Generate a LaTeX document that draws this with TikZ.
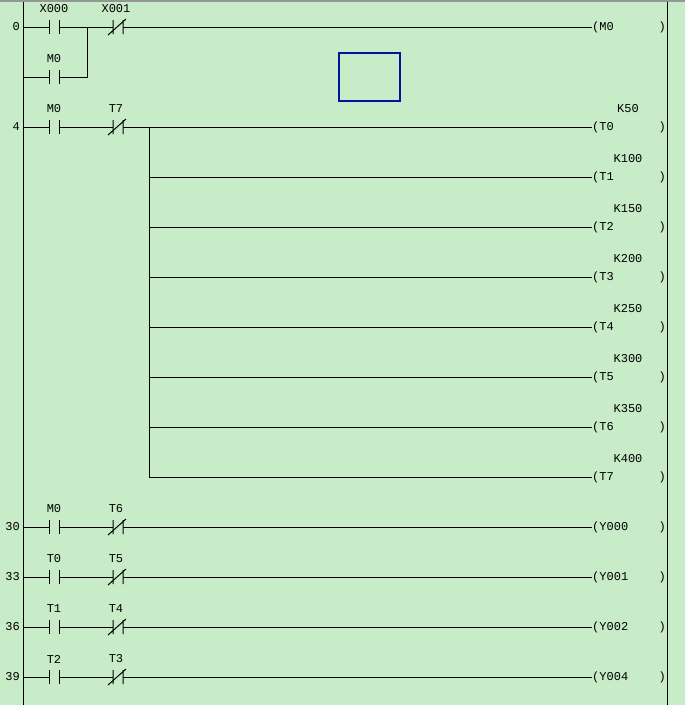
\documentclass[tikz,border=0pt]{standalone}
\usepackage{fontspec}
\setmonofont{Liberation Mono}
\definecolor{bg}{RGB}{200,235,200}
\definecolor{topline}{RGB}{150,150,150}
\definecolor{selblue}{RGB}{0,20,160}
\newcommand\NOc[4]{%
  \node[cont] (#1) at (#2,#3) {};
  \draw[wire] (#1.north west) -- (#1.south west) (#1.north east) -- (#1.south east);
  \node[lab] (#1l) at (#2,#3-18) {#4};}
\newcommand\NCc[4]{%
  \node[cont] (#1) at (#2,#3) {};
  \draw[wire] (#1.north west) -- (#1.south west) (#1.north east) -- (#1.south east)
    ([xshift=-5pt,yshift=-1pt]#1.south west) -- ([xshift=3pt,yshift=1pt]#1.north east);
  \node[lab] (#1l) at (#2-2,#3-18) {#4};}
\newcommand\Coil[4]{%
  \node[coilbox] (#1) at (629,#2) {};
  \node[lab,anchor=west] (#1t) at (#1.west) {(#3};
  \node[lab,anchor=east] (#1r) at (#1.east) {)};
  \node[lab] (#1k) at (628,#2-18) {#4};}
\begin{document}
\begin{tikzpicture}[x=1pt,y=-1pt,
  wire/.style={line width=1pt,black},
  cont/.style={draw=none,minimum width=10pt,minimum height=14pt,inner sep=0pt,outer sep=0pt},
  coilbox/.style={draw=none,minimum width=74pt,minimum height=14pt,inner sep=0pt,outer sep=0pt},
  lab/.style={font=\ttfamily\fontsize{12}{12}\selectfont,inner sep=0pt,text=black},
  num/.style={font=\ttfamily\fontsize{12}{12}\selectfont,inner sep=0pt,anchor=east,text=black}]
\useasboundingbox (0,0) rectangle (685,705);
\fill[bg] (0,0) rectangle (685,705);
\fill[topline] (0,0) rectangle (685,1.5);
% rails
\coordinate (LT) at (23,1.5); \coordinate (LB) at (23,705);
\coordinate (RT) at (667,1.5); \coordinate (RB) at (667,705);
\draw[wire] (LT) -- (LB);
\draw[wire] (RT) -- (RB);
% row numbers
\node[num] (n0) at (20,27) {0};
\node[num] (n4) at (20,127) {4};
\node[num] (n30) at (20,527) {30};
\node[num] (n33) at (20,577) {33};
\node[num] (n36) at (20,627) {36};
\node[num] (n39) at (20,677) {39};
% rung 0
\coordinate (r0) at (23,27); \coordinate (r0b) at (23,77);
\NOc{a1}{54}{27}{X000}
\NCc{a2}{118}{27}{X001}
\NOc{a3}{54}{77}{M0}
\Coil{ca}{27}{M0}{}
\coordinate (j0) at (87,27); \coordinate (j0b) at (87,77);
\draw[wire] (r0) -- (a1.west) (a1.east) -- (a2.west) (a2.east) -- (ca.west);
\draw[wire] (r0b) -- (a3.west) (a3.east) -- (j0b) -- (j0);
% blue selection box
\draw[selblue,line width=2pt] (339,53) rectangle (400,101);
% rung 4
\coordinate (r4) at (23,127);
\NOc{b1}{54}{127}{M0}
\NCc{b2}{118}{127}{T7}
\coordinate (bj) at (149,127);
\Coil{t0}{127}{T0}{K50}
\draw[wire] (r4) -- (b1.west) (b1.east) -- (b2.west) (b2.east) -- (t0.west);
\foreach \i/\k [count=\n from 1] in {1/K100,2/K150,3/K200,4/K250,5/K300,6/K350,7/K400}{
  \Coil{t\i}{127+50*\n}{T\i}{\k}
  \coordinate (bj\i) at (149,127+50*\n);
  \draw[wire] (bj\i) -- (t\i.west);
}
\draw[wire] (bj) -- (bj7);
% rungs 30..39
\foreach \y/\no/\nc/\out/\id in {527/M0/T6/Y000/p,577/T0/T5/Y001/q,627/T1/T4/Y002/r,677/T2/T3/Y004/s}{
  \coordinate (\id r) at (23,\y);
  \NOc{\id1}{54}{\y}{\no}
  \NCc{\id2}{118}{\y}{\nc}
  \Coil{\id c}{\y}{\out}{}
  \draw[wire] (\id r) -- (\id1.west) (\id1.east) -- (\id2.west) (\id2.east) -- (\id c.west);
}
\end{tikzpicture}
\end{document}
